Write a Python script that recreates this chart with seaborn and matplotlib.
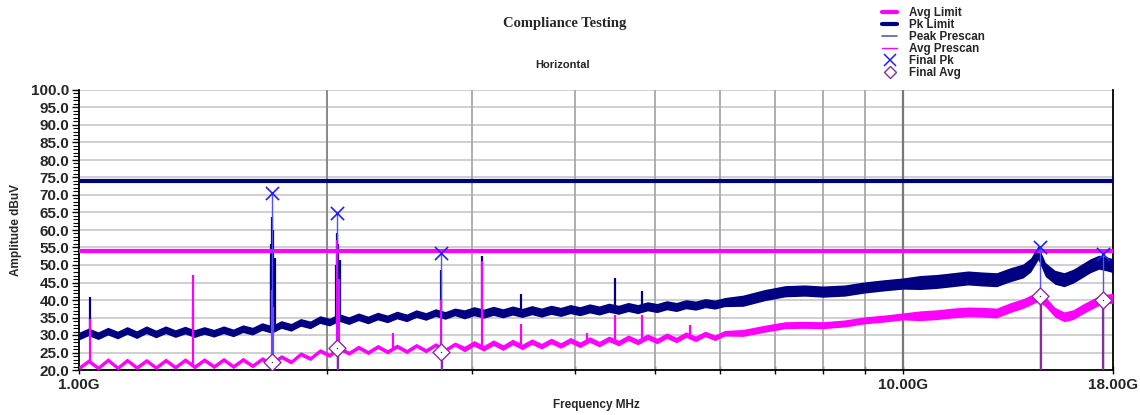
import numpy as np
import pandas as pd
import matplotlib
matplotlib.use("Agg")
import matplotlib.pyplot as plt
from matplotlib.lines import Line2D
from matplotlib.ticker import FixedLocator, FixedFormatter, MultipleLocator, FormatStrFormatter, NullFormatter
import seaborn as sns

# ---------------- data ----------------
freq_ghz = [1.000, 1.027, 1.055, 1.084, 1.114, 1.144, 1.175, 1.207, 1.240, 1.274,
            1.309, 1.345, 1.381, 1.419, 1.458, 1.498, 1.539, 1.581, 1.624, 1.668,
            1.714, 1.760, 1.809, 1.858, 1.909, 1.961, 2.014, 2.069, 2.126, 2.184,
            2.243, 2.305, 2.368, 2.432, 2.499, 2.567, 2.637, 2.709, 2.783, 2.859,
            2.937, 3.017, 3.099, 3.184, 3.271, 3.360, 3.452, 3.546, 3.643, 3.742,
            3.844, 3.949, 4.057, 4.168, 4.281, 4.398, 4.518, 4.642, 4.768, 4.899,
            5.032, 5.170, 5.311, 5.456, 5.605, 5.758, 5.915, 6.077,
            6.4, 6.8, 7.2, 7.6, 8.0, 8.5, 9.0, 9.5, 10.0, 10.5, 11.0, 11.5, 12.0,
            12.5, 13.0, 13.5, 14.0, 14.3, 14.6, 14.9, 15.3, 15.7, 16.1, 16.5, 16.9,
            17.3, 17.7, 18.0]

pk_level = [29.7, 30.9, 29.8, 31.1, 30.0, 31.3, 30.1, 31.5, 30.3, 31.5,
            30.4, 31.4, 30.4, 31.3, 30.5, 31.5, 30.6, 31.8, 31.1, 32.4,
            31.6, 33.0, 32.2, 33.6, 32.9, 34.4, 33.7, 35.0, 34.1, 35.2,
            34.3, 35.4, 34.6, 35.7, 34.9, 36.1, 35.3, 36.4, 35.6, 36.6,
            35.9, 36.8, 36.1, 36.9, 36.2, 37.0, 36.3, 37.1, 36.4, 37.2,
            36.6, 37.4, 36.8, 37.6, 37.0, 37.8, 37.2, 38.0, 37.4, 38.2,
            37.7, 38.5, 38.0, 38.8, 38.4, 39.1, 38.7, 39.4,
            39.8, 41.4, 42.5, 42.7, 42.4, 42.7, 43.6, 44.2, 44.7, 45.0, 45.3, 45.8, 46.3,
            46.0, 45.8, 47.2, 48.3, 50.0, 53.5, 48.7, 46.5, 45.8, 46.8, 48.3, 49.8,
            50.8, 50.3, 49.8]

avg_level = [20.6, 22.6, 20.6, 22.9, 20.6, 22.8, 20.7, 22.7, 20.7, 22.8,
             20.8, 22.9, 20.9, 22.9, 21.0, 23.0, 21.0, 23.0, 21.2, 23.2,
             21.8, 23.8, 22.3, 24.6, 23.3, 25.5, 24.2, 26.3, 24.8, 26.5,
             25.0, 26.7, 25.2, 26.8, 25.3, 27.0, 25.5, 27.2, 25.7, 27.4,
             26.0, 27.6, 26.2, 27.8, 26.4, 28.0, 26.6, 28.1, 26.8, 28.3,
             27.0, 28.5, 27.2, 28.7, 27.4, 28.9, 27.7, 29.2, 28.0, 29.5,
             28.3, 29.8, 28.6, 30.1, 28.9, 30.3, 29.2, 30.5,
             30.6, 31.8, 32.8, 32.9, 32.8, 33.3, 34.2, 34.7, 35.3, 35.5, 35.8, 36.3, 36.6,
             36.5, 36.3, 37.8, 39.0, 40.0, 41.0, 39.5, 36.5, 35.2, 35.8, 37.3, 38.6,
             39.8, 40.3, 40.5]

# half-thickness of the noise band of each prescan trace (dB)
pk_spread = [1.1] * 40 + [1.3] * 28 + [1.6] * 9 + [2.0] * 19
avg_spread = [0.6] * 40 + [0.8] * 28 + [1.0] * 9 + [1.4] * 19

# narrow spurious spikes of the prescans
pk_spike_freq = [1.031, 1.375, 1.708, 1.712, 1.715, 1.722, 1.730, 2.052, 2.056, 2.062,
                 2.073, 2.750, 3.085, 3.440, 4.470, 4.820]
pk_spike_top = [40.8, 37.5, 56.0, 50.0, 63.8, 60.0, 52.0, 50.0, 59.0, 56.0,
                51.5, 48.6, 52.6, 41.8, 46.4, 42.6]
avg_spike_freq = [1.031, 1.375, 1.715, 1.722, 2.056, 2.068, 2.405, 2.750, 3.085, 3.440,
                  4.135, 4.470, 4.820, 5.510]
avg_spike_top = [34.6, 47.2, 43.0, 38.0, 57.0, 46.0, 30.6, 40.0, 51.0, 33.2,
                 30.6, 35.8, 35.8, 32.9]

# limits
limit_freq = [1.0, 18.0]
avg_limit = [54.0, 54.0]
pk_limit = [74.0, 74.0]

# final measurements
final_freq = [1.715, 2.056, 2.750, 14.67, 17.49]
final_pk = [70.5, 64.8, 53.5, 55.0, 53.0]
final_avg = [22.3, 26.3, 25.2, 41.2, 40.0]

# ---------------- style ----------------
NAVY = "#000080"
MAGENTA = "#FF00FF"
BLUE = "#2020FF"
PURPLE = "#8A2C9A"

sns.set_theme(style="white")
plt.rcParams["font.family"] = ["Liberation Sans", "DejaVu Sans"]
plt.rcParams["font.weight"] = "bold"

fig = plt.figure(figsize=(11.4, 4.15), dpi=100)
ax = fig.add_axes([79 / 1140, 1 - 370 / 415, (1113 - 79) / 1140, (370 - 90) / 415])

df = pd.DataFrame({"freq": freq_ghz, "pk": pk_level, "avg": avg_level,
                   "pk_s": pk_spread, "avg_s": avg_spread})
lim = pd.DataFrame({"freq": limit_freq, "avg": avg_limit, "pk": pk_limit})
fin = pd.DataFrame({"freq": final_freq, "pk": final_pk, "avg": final_avg})

ax.set_xscale("log")
ax.set_xlim(1.0, 18.0)
ax.set_ylim(20, 100)

# peak prescan
ax.fill_between(df["freq"], df["pk"] - df["pk_s"], df["pk"] + df["pk_s"],
                color=NAVY, lw=0, zorder=3)
sns.lineplot(data=df, x="freq", y="pk", color=NAVY, lw=1.0, ax=ax, zorder=3)
pk_base = np.interp(pk_spike_freq, freq_ghz, pk_level)
ax.vlines(pk_spike_freq, pk_base, pk_spike_top, color=NAVY, lw=1.6, zorder=3)

# avg prescan
ax.fill_between(df["freq"], df["avg"] - df["avg_s"], df["avg"] + df["avg_s"],
                color=MAGENTA, lw=0, zorder=4)
sns.lineplot(data=df, x="freq", y="avg", color=MAGENTA, lw=1.0, ax=ax, zorder=4)
avg_base = np.interp(avg_spike_freq, freq_ghz, avg_level)
ax.vlines(avg_spike_freq, avg_base, avg_spike_top, color=MAGENTA, lw=1.6, zorder=4)

# limits
sns.lineplot(data=lim, x="freq", y="avg", color=MAGENTA, lw=3, ax=ax, zorder=5)
sns.lineplot(data=lim, x="freq", y="pk", color=NAVY, lw=3, ax=ax, zorder=5)

# stems of final measurements
ax.vlines(fin["freq"], 20, fin["pk"], color="#5050FF", lw=1.0, zorder=6)
ax.vlines([f * 1.002 for f in final_freq], 20, fin["avg"], color=PURPLE, lw=1.6, zorder=6)

# final markers
sns.scatterplot(data=fin, x="freq", y="pk", marker="x", s=90, color=BLUE,
                linewidth=1.2, ax=ax, zorder=7)
sns.scatterplot(data=fin, x="freq", y="avg", marker="D", s=75, facecolor="white",
                edgecolor=PURPLE, linewidth=1.0, ax=ax, zorder=7)
sns.scatterplot(data=fin, x="freq", y="avg", marker=".", s=4, color="#333333",
                linewidth=0, ax=ax, zorder=8)

# axes / ticks
ax.xaxis.set_major_locator(FixedLocator([1.0, 10.0, 18.0]))
ax.xaxis.set_major_formatter(FixedFormatter(["1.00G", "10.00G", "18.00G"]))
ax.xaxis.set_minor_locator(FixedLocator([2, 3, 4, 5, 6, 7, 8, 9]))
ax.xaxis.set_minor_formatter(NullFormatter())
ax.yaxis.set_major_locator(MultipleLocator(5))
ax.yaxis.set_major_formatter(FormatStrFormatter("%.1f"))
ax.yaxis.set_minor_locator(MultipleLocator(1))

ax.tick_params(axis="y", which="major", direction="out", length=5, width=1,
               labelsize=11, pad=2, left=True, color="black")
ax.tick_params(axis="y", which="minor", direction="out", length=4, width=0.8,
               left=True, color="black")
ax.tick_params(axis="x", which="both", direction="inout", length=6, width=1,
               labelsize=11, pad=3, bottom=True, color="black")
for lab in ax.get_xticklabels() + ax.get_yticklabels():
    lab.set_fontweight("bold")

ax.grid(False)
for yv in range(20, 101, 5):
    ax.axhline(yv, color="#CFCFCF", lw=1.4, zorder=1)
for xv in [2, 3, 4, 5, 6, 7, 8, 9]:
    ax.axvline(xv, color="#A8A8A8", lw=1.3, zorder=1)
ax.axvline(2, color="#888888", lw=1.3, zorder=1)
ax.axvline(10, color="#777777", lw=1.6, zorder=1)

for side in ["left", "bottom", "right"]:
    ax.spines[side].set_visible(True)
    ax.spines[side].set_color("black")
    ax.spines[side].set_linewidth(1.3)
ax.spines["top"].set_visible(False)

ax.set_xlabel("Frequency MHz", fontsize=8.5, fontweight="bold")
ax.set_ylabel("Amplitude dBuV", fontsize=8.5, fontweight="bold")
ax.xaxis.set_label_coords(0.5, -0.105)
ax.yaxis.set_label_coords(-57 / 1034, 0.5)

fig.text(565 / 1140, 1 - 24 / 415, "Compliance Testing", ha="center", va="center",
         fontsize=10.5, fontweight="bold", family=["Liberation Serif", "DejaVu Serif"])
fig.text(563 / 1140, 1 - 65 / 415, "Horizontal", ha="center", va="center",
         fontsize=8, fontweight="bold")

handles = [
    Line2D([], [], color=MAGENTA, lw=3),
    Line2D([], [], color=NAVY, lw=3),
    Line2D([], [], color="#5A5AB4", lw=1.2),
    Line2D([], [], color=MAGENTA, lw=1.0),
    Line2D([], [], color=BLUE, lw=0, marker="x", markersize=8, markeredgewidth=1.1),
    Line2D([], [], color=PURPLE, lw=0, marker="D", markersize=6, markerfacecolor="white",
           markeredgewidth=1.0),
]
labels = ["Avg Limit", "Pk Limit", "Peak Prescan", "Avg Prescan", "Final Pk", "Final Avg"]
fig.legend(handles, labels, loc="upper left", bbox_to_anchor=(882 / 1140, 1 - 7 / 415),
           frameon=False, prop={"size": 8.4, "weight": "bold"}, handlelength=1.3,
           handletextpad=1.0, labelspacing=0.0, borderpad=0, borderaxespad=0)

fig.savefig("out.png", dpi=100, facecolor="white")
